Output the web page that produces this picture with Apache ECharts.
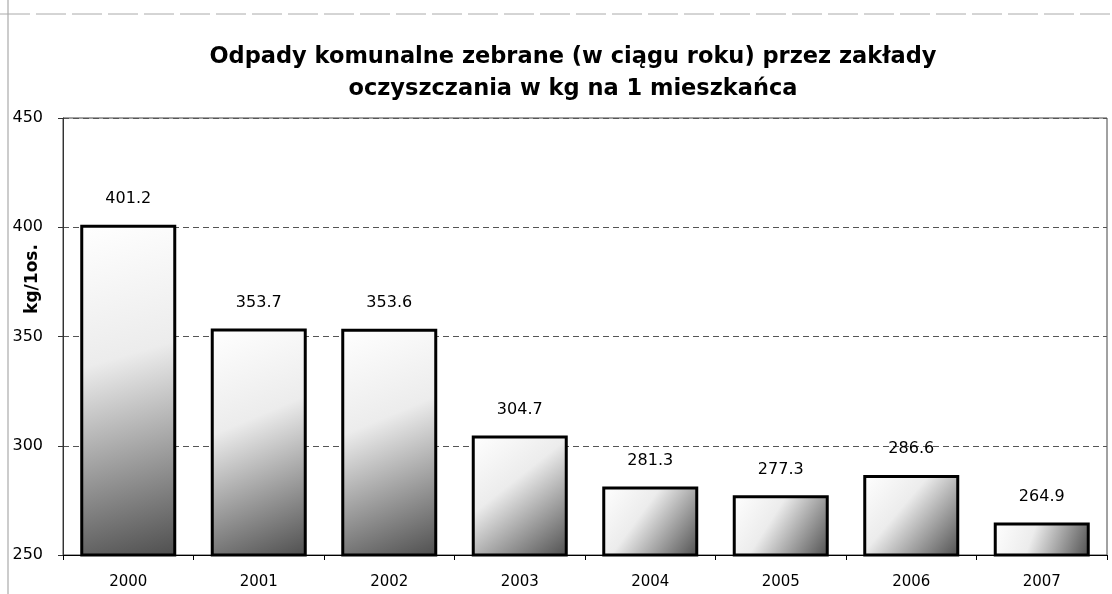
<!DOCTYPE html>
<html><head><meta charset="utf-8">
<script src="https://cdn.jsdelivr.net/npm/echarts@6/dist/echarts.min.js"></script>
<style>html,body{margin:0;padding:0;background:#fff}#c{width:1112px;height:594px}</style>
</head><body><div id="c"></div>
<script>
const categories = ['2000','2001','2002','2003','2004','2005','2006','2007'];
const values = [401.2, 353.7, 353.6, 304.7, 281.3, 277.3, 286.6, 264.9];
const titleText = 'Odpady komunalne zebrane (w ciągu roku) przez zakłady\noczyszczania w kg na 1 mieszkańca';
const yName = 'kg/1os.';

const chart = echarts.init(document.getElementById('c'));
const font = '"DejaVu Sans", sans-serif';
chart.setOption({
  animation: false,
  backgroundColor: '#fff',
  title: {
    text: titleText, left: 568, top: 36, textAlign: 'center',
    textStyle: {fontFamily: font, fontWeight: 'bold', fontSize: 22.5, lineHeight: 32, color: '#000'}
  },
  graphic: [
    {type: 'line', shape: {x1: 8, y1: 0, x2: 8, y2: 594}, style: {stroke: '#999', lineWidth: 1}},
    {type: 'line', shape: {x1: 0, y1: 14, x2: 1112, y2: 14}, style: {stroke: '#aaa', lineWidth: 1, lineDash: [30, 6]}},
    {type: 'text', x: 33, y: 279, rotation: Math.PI / 2,
      style: {text: yName, font: 'bold 17px "DejaVu Sans", sans-serif', fill: '#000',
        textAlign: 'center', textVerticalAlign: 'middle'}}
  ],
  grid: {left: 63, right: 5, top: 118, bottom: 39, containLabel: false, outerBoundsMode: 'none',
    show: true, borderColor: '#444', borderWidth: 1},
  xAxis: {
    type: 'category', data: categories,
    axisLine: {lineStyle: {color: '#000', width: 1}},
    axisTick: {show: true, length: 5, lineStyle: {color: '#000'}},
    axisLabel: {fontFamily: font, fontSize: 15, color: '#000', margin: 20}
  },
  yAxis: {
    type: 'value', min: 250, max: 450, interval: 50,
    axisLine: {show: true, lineStyle: {color: '#333'}},
    axisTick: {show: true, length: 5, lineStyle: {color: '#333'}},
    axisLabel: {fontFamily: font, fontSize: 16, color: '#000', margin: 20},
    splitLine: {lineStyle: {color: '#555', type: [6, 4], width: 1}}
  },
  series: [{
    type: 'bar', data: values, barWidth: 96,
    itemStyle: {
      borderColor: '#000', borderWidth: 3,
      color: new echarts.graphic.LinearGradient(0, 0, 1, 1, [
        {offset: 0, color: '#ffffff'},
        {offset: 0.4, color: '#ececec'},
        {offset: 1, color: '#4e4e4e'}
      ])
    },
    label: {show: true, position: 'top', distance: 18, fontFamily: font, fontSize: 16, color: '#000',
      formatter: p => p.value.toFixed(1)}
  }]
});
</script></body></html>
